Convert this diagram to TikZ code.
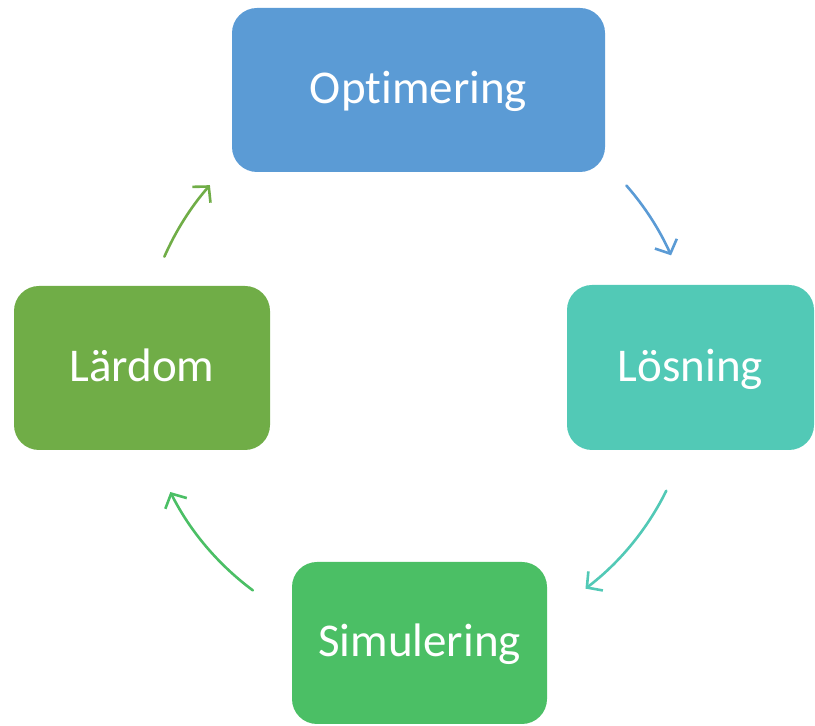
\documentclass[tikz,border=0pt]{standalone}
\usepackage{fontspec}
\setmainfont{Carlito}[RawFeature=-liga]
\usetikzlibrary{arrows.meta,calc}
\definecolor{cblue}{HTML}{5B9BD5}
\definecolor{cteal}{HTML}{52C9B6}
\definecolor{cgreen}{HTML}{4BBF65}
\definecolor{colive}{HTML}{70AD47}
\tikzset{
  box/.style={rounded corners=25pt, inner sep=0pt, text=white, text height=40pt, text depth=12.6pt, font=\fontsize{47}{56}\selectfont},
  cyc/.style={line width=2.6pt, line cap=round, -{Straight Barb[length=11pt,width=24pt,line width=2.6pt]}}
}
\begin{document}
\begin{tikzpicture}[x=1pt,y=1pt]
\useasboundingbox (0,0) rectangle (815,726);
\coordinate (C) at (418,358);
\node[box, fill=cblue, minimum width=373pt, minimum height=164pt] (opt) at (418.5,636) {Optimering};
\node[box, fill=cteal, minimum width=247pt, minimum height=165pt] (los) at (690.5,358.5) {Lösning};
\node[box, fill=cgreen, minimum width=255pt, minimum height=162pt] (sim) at (419.5,83) {Simulering};
\node[box, fill=colive, minimum width=256pt, minimum height=164pt] (lar) at (142,358) {Lärdom};
\coordinate (a1) at ($(C)+(41.2:277)$);
\coordinate (a2) at ($(C)+(-26.3:277)$);
\coordinate (a3) at ($(C)+(-126.6:277)$);
\coordinate (a4) at ($(C)+(156.3:277)$);
\draw[cyc, cblue] (a1) arc[start angle=41.2, end angle=24.0, radius=277];
\draw[cyc, cteal] (a2) arc[start angle=-26.3, end angle=-52.8, radius=277];
\draw[cyc, cgreen] (a3) arc[start angle=-126.6, end angle=-153.4, radius=277];
\draw[cyc, colive] (a4) arc[start angle=156.3, end angle=138.7, radius=277];
\end{tikzpicture}
\end{document}
